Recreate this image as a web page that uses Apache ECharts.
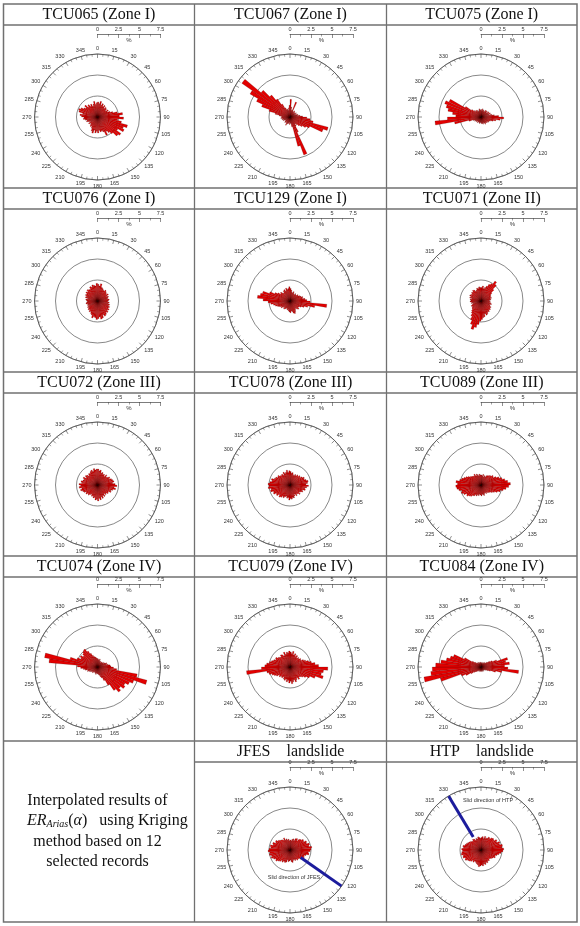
<!DOCTYPE html>
<html lang="en">
<head>
    <meta charset="UTF-8">
    <title>ER Arias rose diagrams</title>
    <script src="https://cdn.jsdelivr.net/npm/echarts@6/dist/echarts.min.js"></script>
    <style>
        html, body { margin: 0; padding: 0; background: #fff; }
        #main { width: 580px; height: 926px; }
    </style>
</head>
<body>
<div id="main"></div>
<script>
    // bin centres (deg, clockwise from north), 5 degree bins
    const binAngles = [2.5, 7.5, 12.5, 17.5, 22.5, 27.5, 32.5, 37.5, 42.5, 47.5, 52.5, 57.5,
        62.5, 67.5, 72.5, 77.5, 82.5, 87.5, 92.5, 97.5, 102.5, 107.5, 112.5, 117.5,
        122.5, 127.5, 132.5, 137.5, 142.5, 147.5, 152.5, 157.5, 162.5, 167.5, 172.5, 177.5,
        182.5, 187.5, 192.5, 197.5, 202.5, 207.5, 212.5, 217.5, 222.5, 227.5, 232.5, 237.5,
        242.5, 247.5, 252.5, 257.5, 262.5, 267.5, 272.5, 277.5, 282.5, 287.5, 292.5, 297.5,
        302.5, 307.5, 312.5, 317.5, 322.5, 327.5, 332.5, 337.5, 342.5, 347.5, 352.5, 357.5];

    const angleTicks = [0, 360, 15];   // min, max, label step
    const scaleTicks = [0, 7.5, 2.5];  // % scale bar, also radius of the outer ring

    // ER_Arias(alpha) in %, one value per bin
    const tcu065 = [1.8, 1.6, 1.9, 1.5, 1.7, 1.4, 1.6, 1.3, 1.5, 1.4, 1.2, 1.5, 1.3, 1.6, 1.9, 2.4, 3.0, 2.6,
        3.1, 2.4, 2.9, 3.7, 3.3, 3.5, 2.8, 3.4, 3.2, 2.6, 2.3, 2.0, 2.4, 1.9, 1.7, 1.8, 1.6, 1.9,
        1.7, 1.9, 1.6, 2.0, 1.8, 1.5, 1.3, 1.4, 1.2, 1.1, 1.3, 1.0, 1.2, 1.4, 1.3, 1.5, 1.7, 1.6,
        1.9, 2.1, 1.8, 2.3, 2.4, 2.2, 1.9, 1.7, 2.0, 1.6, 1.8, 1.5, 1.7, 1.4, 1.6, 1.9, 1.5, 1.7];
    const tcu067 = [2.1, 1.2, 0.8, 0.9, 1.9, 0.8, 0.7, 0.9, 0.6, 0.8, 0.7, 0.9, 0.6, 0.8, 1.0, 0.9, 1.2, 1.5,
        2.0, 2.4, 2.8, 4.7, 4.2, 2.6, 2.2, 1.8, 1.5, 1.2, 1.0, 1.3, 2.0, 4.8, 3.6, 1.2, 0.8, 0.7,
        0.9, 0.6, 0.8, 0.7, 0.9, 1.1, 0.8, 0.7, 0.9, 0.8, 0.6, 0.7, 0.9, 0.8, 1.0, 0.9, 1.1, 1.0,
        1.0, 1.3, 1.8, 2.6, 3.6, 4.4, 5.5, 7.0, 4.5, 3.4, 2.6, 1.8, 1.2, 0.9, 1.0, 0.8, 1.1, 1.4];
    const tcu075 = [0.9, 0.7, 1.0, 0.8, 0.9, 0.7, 0.8, 1.0, 0.9, 1.0, 0.8, 1.1, 0.9, 1.2, 1.0, 1.3, 1.6, 2.1,
        2.7, 2.3, 1.8, 1.5, 1.2, 1.0, 1.1, 0.9, 1.0, 0.8, 0.9, 1.0, 0.8, 0.7, 0.9, 0.8, 0.7, 0.8,
        0.7, 0.6, 0.8, 0.7, 0.6, 0.7, 0.8, 0.6, 0.7, 0.8, 0.7, 0.9, 0.8, 1.0, 1.5, 3.2, 5.5, 4.0,
        3.0, 3.4, 4.0, 4.3, 4.6, 4.2, 2.2, 1.4, 1.1, 0.9, 1.0, 0.8, 0.9, 0.7, 0.8, 1.0, 0.9, 0.8];
    const tcu076 = [2.0, 1.8, 2.1, 1.7, 1.6, 1.5, 1.4, 1.6, 1.5, 1.4, 1.3, 1.5, 1.2, 1.4, 1.3, 1.2, 1.4, 1.3,
        1.2, 1.4, 1.3, 1.5, 1.4, 1.6, 1.5, 1.7, 1.6, 1.8, 1.7, 1.9, 2.0, 1.8, 2.1, 2.2, 1.9, 2.1,
        2.2, 2.0, 1.9, 2.1, 1.8, 1.7, 1.5, 1.6, 1.4, 1.5, 1.3, 1.4, 1.2, 1.3, 1.2, 1.4, 1.3, 1.2,
        1.3, 1.4, 1.2, 1.5, 1.4, 1.6, 1.5, 1.7, 1.6, 1.8, 1.7, 1.6, 1.9, 1.8, 2.0, 1.9, 1.8, 2.1];
    const tcu129 = [1.5, 1.3, 1.1, 1.0, 1.2, 1.0, 0.9, 1.1, 1.0, 1.0, 1.2, 1.1, 1.3, 1.4, 1.6, 1.5, 1.8, 2.0,
        2.4, 4.4, 3.0, 2.2, 1.8, 1.5, 1.3, 1.2, 1.4, 1.3, 1.1, 1.2, 1.4, 1.6, 1.5, 1.3, 1.2, 1.4,
        1.3, 1.2, 1.0, 1.1, 0.9, 1.0, 1.1, 1.2, 1.0, 1.1, 1.3, 1.2, 1.4, 1.6, 1.8, 2.0, 2.3, 2.6,
        3.2, 3.9, 3.6, 3.4, 2.6, 2.0, 1.7, 1.4, 1.5, 1.3, 1.2, 1.4, 1.5, 1.3, 1.6, 1.4, 1.5, 1.7];
    const tcu071 = [1.6, 1.8, 1.5, 1.7, 1.9, 2.2, 2.4, 2.9, 2.6, 2.0, 1.6, 1.4, 1.3, 1.2, 1.3, 1.1, 1.2, 1.0,
        1.1, 1.0, 1.2, 1.3, 1.1, 1.2, 1.4, 1.3, 1.5, 1.4, 1.6, 1.5, 1.7, 1.8, 1.6, 1.9, 2.0, 2.2,
        2.4, 2.8, 3.2, 3.5, 3.0, 2.5, 2.1, 1.8, 1.6, 1.4, 1.3, 1.2, 1.3, 1.1, 1.0, 1.2, 1.1, 1.3,
        1.2, 1.3, 1.1, 1.4, 1.3, 1.5, 1.4, 1.3, 1.5, 1.4, 1.6, 1.5, 1.3, 1.4, 1.6, 1.5, 1.7, 1.6];
    const tcu072 = [1.9, 1.7, 1.8, 1.5, 1.6, 1.4, 1.5, 1.3, 1.6, 1.4, 1.5, 1.7, 1.6, 1.8, 1.9, 2.0, 1.8, 2.1,
        2.3, 2.0, 2.2, 1.9, 1.7, 1.8, 1.5, 1.6, 1.4, 1.5, 1.3, 1.6, 1.4, 1.7, 1.5, 1.8, 1.6, 1.9,
        1.7, 1.8, 1.5, 1.6, 1.4, 1.5, 1.3, 1.4, 1.6, 1.5, 1.7, 1.6, 1.8, 1.9, 2.1, 1.9, 2.2, 2.0,
        2.2, 1.9, 2.0, 1.8, 1.7, 1.9, 1.6, 1.8, 1.7, 1.5, 1.7, 1.6, 1.8, 1.9, 1.7, 2.0, 1.8, 1.9];
    const tcu078 = [1.6, 1.4, 1.5, 1.3, 1.2, 1.4, 1.3, 1.5, 1.4, 1.6, 1.5, 1.7, 1.9, 1.8, 2.0, 2.2, 2.1, 1.9,
        2.2, 2.0, 1.8, 1.9, 1.6, 1.7, 1.5, 1.4, 1.6, 1.4, 1.3, 1.5, 1.2, 1.4, 1.6, 1.5, 1.7, 1.6,
        1.8, 1.5, 1.6, 1.4, 1.5, 1.7, 1.6, 1.8, 1.9, 1.7, 2.0, 1.9, 2.2, 2.1, 2.4, 2.3, 2.6, 2.5,
        2.6, 2.4, 2.2, 2.3, 2.0, 1.9, 1.7, 1.8, 1.6, 1.5, 1.6, 1.4, 1.7, 1.5, 1.6, 1.8, 1.5, 1.7];
    const tcu089 = [1.2, 1.1, 1.3, 1.0, 1.2, 1.1, 1.3, 1.4, 1.5, 1.6, 1.8, 1.7, 2.0, 2.3, 2.6, 2.9, 3.2, 3.5,
        3.3, 3.0, 2.7, 2.4, 2.1, 1.8, 1.6, 1.4, 1.3, 1.2, 1.1, 1.2, 1.0, 1.1, 1.3, 1.2, 1.1, 1.3,
        1.2, 1.1, 1.3, 1.2, 1.4, 1.3, 1.5, 1.6, 1.8, 1.9, 2.1, 2.0, 2.3, 2.5, 2.4, 2.7, 2.9, 3.0,
        2.8, 3.0, 2.6, 2.4, 2.2, 2.0, 1.8, 1.6, 1.5, 1.4, 1.3, 1.5, 1.2, 1.4, 1.3, 1.1, 1.3, 1.2];
    const tcu074 = [1.0, 0.9, 0.8, 1.0, 0.7, 0.8, 0.6, 0.7, 0.8, 0.7, 0.9, 0.8, 1.0, 1.2, 1.1, 1.3, 1.5, 1.6,
        1.9, 2.3, 4.8, 6.1, 4.6, 4.2, 3.8, 4.0, 3.6, 3.9, 3.4, 2.5, 1.8, 1.4, 1.2, 1.0, 0.9, 0.8,
        0.8, 0.7, 0.9, 0.8, 0.7, 0.6, 0.8, 0.7, 0.9, 0.8, 0.9, 1.0, 1.1, 1.3, 1.2, 1.5, 1.7, 2.0,
        2.4, 5.8, 6.4, 3.4, 2.6, 2.2, 2.4, 2.1, 2.3, 2.5, 2.6, 2.2, 1.8, 1.5, 1.3, 1.2, 1.1, 1.0];
    const tcu079 = [1.8, 1.6, 1.9, 1.5, 1.7, 1.4, 1.6, 1.3, 1.5, 1.4, 1.6, 1.5, 1.8, 2.0, 2.3, 2.6, 3.0, 3.4,
        4.5, 4.0, 3.8, 4.1, 3.2, 2.6, 2.2, 1.9, 1.7, 1.6, 1.8, 1.5, 1.7, 1.9, 1.6, 1.8, 2.0, 1.7,
        1.9, 1.6, 1.8, 1.5, 1.7, 1.6, 1.4, 1.6, 1.5, 1.7, 1.6, 1.9, 2.1, 2.3, 2.6, 2.8, 5.2, 3.4,
        3.0, 2.8, 2.5, 2.3, 2.1, 1.9, 2.0, 1.8, 1.7, 1.6, 1.8, 1.7, 1.5, 1.9, 1.6, 1.8, 1.7, 1.9];
    const tcu084 = [0.5, 0.4, 0.6, 0.5, 0.4, 0.6, 0.5, 0.7, 0.6, 0.7, 0.9, 1.2, 1.5, 2.0, 3.3, 3.0, 3.4, 2.8,
        3.2, 4.5, 2.5, 1.8, 1.2, 0.9, 0.7, 0.6, 0.5, 0.5, 0.4, 0.6, 0.5, 0.4, 0.5, 0.6, 0.4, 0.5,
        0.4, 0.5, 0.6, 0.5, 0.4, 0.5, 0.6, 0.5, 0.7, 0.8, 1.0, 1.4, 2.0, 2.5, 5.0, 6.9, 6.0, 5.8,
        5.4, 4.8, 4.2, 3.8, 3.5, 2.2, 1.2, 0.9, 0.7, 0.6, 0.5, 0.7, 0.5, 0.6, 0.4, 0.5, 0.6, 0.5];
    const jfes = [1.2, 1.1, 1.3, 1.4, 1.2, 1.5, 1.6, 1.4, 1.7, 1.8, 2.0, 1.9, 2.2, 2.1, 2.4, 2.3, 2.6, 2.5,
        2.4, 2.2, 2.3, 2.0, 1.8, 1.9, 1.6, 1.7, 1.5, 1.4, 1.5, 1.3, 1.4, 1.2, 1.3, 1.5, 1.4, 1.2,
        1.3, 1.4, 1.2, 1.5, 1.6, 1.5, 1.7, 1.6, 1.8, 1.9, 2.1, 2.0, 2.2, 2.4, 2.3, 2.5, 2.4, 2.6,
        2.5, 2.3, 2.4, 2.1, 2.2, 1.9, 2.0, 1.8, 1.7, 1.6, 1.5, 1.4, 1.6, 1.3, 1.4, 1.2, 1.3, 1.1];
    const htp = [1.5, 1.6, 1.4, 1.7, 1.5, 1.6, 1.8, 1.7, 1.9, 2.0, 1.9, 2.2, 2.1, 2.4, 2.3, 2.6, 2.5, 2.7,
        2.6, 2.4, 2.2, 2.0, 1.8, 1.9, 1.7, 1.6, 1.5, 1.4, 1.6, 1.5, 1.7, 1.6, 1.8, 1.7, 1.9, 1.8,
        1.9, 2.0, 1.8, 1.7, 1.6, 1.5, 1.7, 1.6, 1.8, 1.9, 2.0, 2.2, 2.1, 2.3, 2.2, 2.4, 2.3, 2.2,
        2.3, 2.1, 2.2, 2.0, 1.9, 1.8, 1.7, 1.6, 1.5, 1.4, 1.6, 1.5, 1.3, 1.5, 1.4, 1.6, 1.5, 1.4];

    // slide directions: [from %, to %, azimuth]
    const slideJfes = [1.55, 7.5, 125];
    const slideHtp = [1.8, 7.5, 329];

    const panels = [
        {title: 'TCU065 (Zone I)', values: tcu065, col: 0, row: 0},
        {title: 'TCU067 (Zone I)', values: tcu067, col: 1, row: 0},
        {title: 'TCU075 (Zone I)', values: tcu075, col: 2, row: 0},
        {title: 'TCU076 (Zone I)', values: tcu076, col: 0, row: 1},
        {title: 'TCU129 (Zone I)', values: tcu129, col: 1, row: 1},
        {title: 'TCU071 (Zone II)', values: tcu071, col: 2, row: 1},
        {title: 'TCU072 (Zone III)', values: tcu072, col: 0, row: 2},
        {title: 'TCU078 (Zone III)', values: tcu078, col: 1, row: 2},
        {title: 'TCU089 (Zone III)', values: tcu089, col: 2, row: 2},
        {title: 'TCU074 (Zone IV)', values: tcu074, col: 0, row: 3},
        {title: 'TCU079 (Zone IV)', values: tcu079, col: 1, row: 3},
        {title: 'TCU084 (Zone IV)', values: tcu084, col: 2, row: 3},
        {title: 'JFES    landslide', values: jfes, col: 1, row: 4, slide: slideJfes, note: 'Slid direction of JFES', noteAt: [294, 877]},
        {title: 'HTP    landslide', values: htp, col: 2, row: 4, slide: slideHtp, note: 'Slid direction of HTP', noteAt: [488, 800]}
    ];

    // table layout
    const colX = [3.5, 194.5, 386.5, 577];
    const rowTop = [4, 188, 372, 556, 741];
    const tableBottom = 922;
    const titleH = 21;
    const centerX = [97.5, 290, 481];
    const centerY = [117, 301, 485, 667, 850];
    const ringR = 63;

    const serif = '"Liberation Serif", "Times New Roman", serif';
    const sans = '"Liberation Sans", Arial, sans-serif';
    const lineCol = '#707070';

    let polar = [], angleAxis = [], radiusAxis = [], grid = [], xAxis = [], yAxis = [], series = [];
    let graphic = [];

    panels.forEach((p, k) => {
        const cx = centerX[p.col], cy = centerY[p.row];
        polar.push({center: [cx, cy], radius: ringR});
        angleAxis.push({
            polarIndex: k, type: 'value', min: angleTicks[0], max: angleTicks[1], interval: angleTicks[2],
            startAngle: 90, clockwise: true,
            axisLine: {lineStyle: {color: '#444', width: 0.6}},
            axisTick: {inside: true, length: 4, lineStyle: {color: '#444', width: 0.6}},
            minorTick: {show: true, splitNumber: 3, length: 2.5, lineStyle: {color: '#444', width: 0.5}},
            axisLabel: {fontSize: 5.5, color: '#333', margin: 3, fontFamily: sans},
            splitLine: {show: false}
        });
        radiusAxis.push({
            polarIndex: k, type: 'value', min: scaleTicks[0], max: scaleTicks[1], interval: scaleTicks[2],
            axisLine: {show: false}, axisTick: {show: false}, axisLabel: {show: false},
            splitLine: {show: true, lineStyle: {color: '#555', width: 0.7}}
        });
        series.push({
            type: 'bar', coordinateSystem: 'polar', polarIndex: k,
            data: binAngles.map((a, j) => [p.values[j], a]),
            barWidth: '100%',
            itemStyle: {color: '#e20000', borderColor: 'rgba(40,0,0,0.75)', borderWidth: 0.25},
            silent: true
        });
        if (p.slide) {
            series.push({
                type: 'line', coordinateSystem: 'polar', polarIndex: k,
                data: [[p.slide[0], p.slide[2]], [p.slide[1], p.slide[2]]],
                symbol: 'none', z: 5, silent: true,
                lineStyle: {color: '#1c1c9c', width: 3}
            });
            graphic.push({
                type: 'text', x: p.noteAt[0], y: p.noteAt[1], z: 10,
                style: {text: p.note, font: '5.5px ' + sans, fill: '#333', align: 'center', verticalAlign: 'middle'}
            });
        }
        // % scale bar
        grid.push({left: cx, top: cy - 83, width: ringR, height: 10});
        xAxis.push({
            gridIndex: k, type: 'value', position: 'top',
            min: scaleTicks[0], max: scaleTicks[1], interval: scaleTicks[2],
            axisLine: {onZero: false, lineStyle: {color: '#444', width: 0.7}},
            axisTick: {inside: true, length: 4, lineStyle: {color: '#444', width: 0.6}},
            minorTick: {show: true, splitNumber: 2, length: 2.5, lineStyle: {color: '#444', width: 0.5}},
            axisLabel: {fontSize: 5.5, color: '#333', margin: 2, fontFamily: sans},
            splitLine: {show: false},
            name: '%', nameLocation: 'middle', nameGap: -9,
            nameTextStyle: {fontSize: 6, color: '#333', fontFamily: sans}
        });
        yAxis.push({gridIndex: k, type: 'value', show: false});

        graphic.push({
            type: 'text', x: (colX[p.col] + colX[p.col + 1]) / 2, y: rowTop[p.row] + titleH / 2 + 0.5,
            style: {text: p.title, font: '16px ' + serif, fill: '#111', align: 'center', verticalAlign: 'middle'}
        });
    });

    // table lines
    const ln = (x1, y1, x2, y2) => ({
        type: 'line', shape: {x1, y1, x2, y2}, style: {stroke: lineCol, lineWidth: 1.3}, silent: true
    });
    graphic.push({
        type: 'rect', shape: {x: colX[0], y: rowTop[0], width: colX[3] - colX[0], height: tableBottom - rowTop[0]},
        style: {fill: 'none', stroke: lineCol, lineWidth: 1.5}
    });
    graphic.push(ln(colX[1], rowTop[0], colX[1], tableBottom));
    graphic.push(ln(colX[2], rowTop[0], colX[2], tableBottom));
    rowTop.forEach((y, r) => {
        if (r > 0) graphic.push(ln(colX[0], y, colX[3], y));
        graphic.push(ln(r === 4 ? colX[1] : colX[0], y + titleH, colX[3], y + titleH));
    });

    // note in the lower left cell
    const noteFont = '16px ' + serif;
    graphic.push({type: 'text', x: 97.5, y: 801, style: {text: 'Interpolated results of', font: noteFont, fill: '#111', align: 'center', verticalAlign: 'middle'}});
    graphic.push({
        type: 'text', x: 27, y: 821,
        style: {
            text: '{it|ER}{sub|Arias}{n|(}{it|α}{n|)}{n|   using Kriging}',
            align: 'left', verticalAlign: 'middle',
            rich: {
                it: {font: 'italic 16px ' + serif, fill: '#111'},
                sub: {font: 'italic 10px ' + serif, fill: '#111', verticalAlign: 'bottom', padding: [5, 0, 0, 0]},
                n: {font: '16px ' + serif, fill: '#111'}
            }
        }
    });
    graphic.push({type: 'text', x: 97.5, y: 842, style: {text: 'method based on 12', font: noteFont, fill: '#111', align: 'center', verticalAlign: 'middle'}});
    graphic.push({type: 'text', x: 97.5, y: 862, style: {text: 'selected records', font: noteFont, fill: '#111', align: 'center', verticalAlign: 'middle'}});

    const myChart = echarts.init(document.getElementById('main'), null, {renderer: 'canvas'});
    myChart.setOption({
        animation: false,
        backgroundColor: '#fff',
        polar, angleAxis, radiusAxis, grid, xAxis, yAxis, series, graphic
    });
</script>
</body>
</html>
